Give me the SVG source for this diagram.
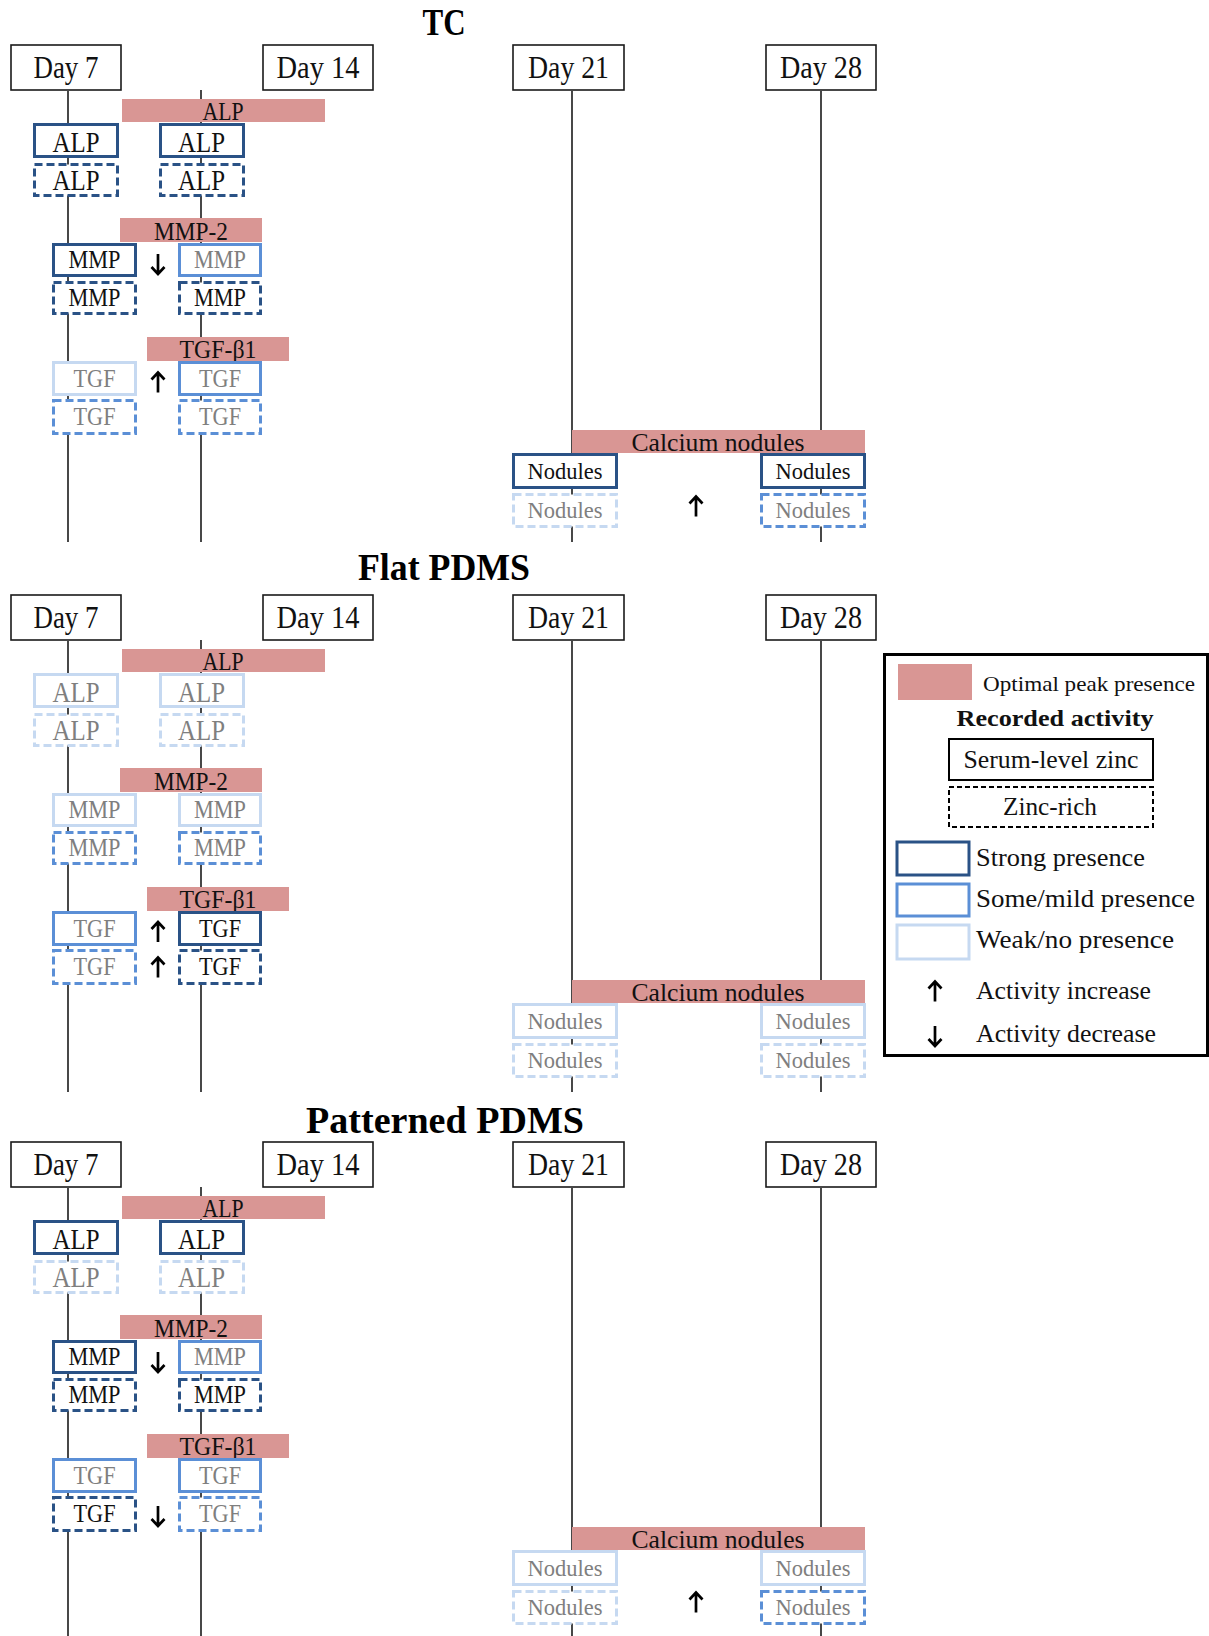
<svg xmlns="http://www.w3.org/2000/svg" xmlns:xlink="http://www.w3.org/1999/xlink" width="1209" height="1636" viewBox="0 0 1209 1636">
<style>
text{font-family:"Liberation Serif","Times New Roman",serif;}
.title{font-size:37px;font-weight:bold;fill:#000;text-anchor:middle;}
.dayb{fill:#fff;stroke:#1a1a1a;stroke-width:1.6;}
.dayt{font-size:31px;fill:#111;text-anchor:middle;}
.ln{stroke:#1a1a1a;stroke-width:1.6;fill:none;}
.bar{fill:#D99694;}
.bt{font-size:25px;fill:#111;text-anchor:middle;}
.bx{fill:#fff;stroke-width:3;}
.s{stroke:#2A5286;}
.m{stroke:#5B8FD6;}
.w{stroke:#C6D9F1;}
.d{stroke-dasharray:8 4;}
.k{fill:#111;}
.g{fill:#7F7F7F;}
.alp{font-size:30px;text-anchor:middle;}
.lb{font-size:25px;text-anchor:middle;}
.nod{font-size:23px;text-anchor:middle;}
.arr{stroke:#000;stroke-width:2.7;fill:none;}
.lg{font-size:25px;fill:#111;}
</style>
<defs>
<path id="up" d="M0,10 V-9 M-6.5,-3 L0,-10 L6.5,-3"/>
<path id="dn" d="M0,-10 V9 M-6.5,3 L0,10 L6.5,3"/>
</defs>

<!-- ===================== SECTION 1: TC ===================== -->
<g id="sec-tc">
<text class="title" x="444" y="35" textLength="43" lengthAdjust="spacingAndGlyphs">TC</text>
<g id="tc-connectors">
<line class="ln" x1="68" y1="91" x2="68" y2="542"/>
<line class="ln" x1="201" y1="90" x2="201" y2="542"/>
<line class="ln" x1="572" y1="91" x2="572" y2="542"/>
<line class="ln" x1="821" y1="91" x2="821" y2="542"/>
</g>
<g id="tc-day7"><rect class="dayb" x="11" y="45" width="110" height="45"/><text class="dayt" x="66" y="78" textLength="65" lengthAdjust="spacingAndGlyphs">Day 7</text></g>
<g id="tc-day14"><rect class="dayb" x="263" y="45" width="110" height="45"/><text class="dayt" x="318" y="78" textLength="83" lengthAdjust="spacingAndGlyphs">Day 14</text></g>
<g id="tc-day21"><rect class="dayb" x="513" y="45" width="111" height="45"/><text class="dayt" x="568.5" y="78" textLength="81" lengthAdjust="spacingAndGlyphs">Day 21</text></g>
<g id="tc-day28"><rect class="dayb" x="766" y="45" width="110" height="45"/><text class="dayt" x="821" y="78" textLength="82" lengthAdjust="spacingAndGlyphs">Day 28</text></g>
<g id="tc-bar-alp"><rect class="bar" x="122" y="99" width="203" height="23"/><text class="bt" x="223" y="120" textLength="41" lengthAdjust="spacingAndGlyphs">ALP</text></g>
<g id="tc-bar-mmp"><rect class="bar" x="120" y="218" width="142" height="24"/><text class="bt" x="191" y="240" textLength="74" lengthAdjust="spacingAndGlyphs">MMP-2</text></g>
<g id="tc-bar-tgf"><rect class="bar" x="147" y="337" width="142" height="24"/><text class="bt" x="218" y="358" textLength="77" lengthAdjust="spacingAndGlyphs">TGF-β1</text></g>
<g id="tc-bar-cal"><rect class="bar" x="572" y="430" width="293" height="23"/><text class="bt" x="718" y="451" textLength="173" lengthAdjust="spacingAndGlyphs">Calcium nodules</text></g>
<g id="tc-alp-d7-s"><rect class="bx s" x="34.5" y="124.5" width="83" height="32"/><text class="alp k" x="76" y="152" textLength="47" lengthAdjust="spacingAndGlyphs">ALP</text></g>
<g id="tc-alp-d7-z"><rect class="bx s d" x="34.5" y="164.5" width="83" height="31"/><text class="alp k" x="76" y="190" textLength="47" lengthAdjust="spacingAndGlyphs">ALP</text></g>
<g id="tc-alp-d14-s"><rect class="bx s" x="160.5" y="124.5" width="83" height="32"/><text class="alp k" x="201.5" y="152" textLength="47" lengthAdjust="spacingAndGlyphs">ALP</text></g>
<g id="tc-alp-d14-z"><rect class="bx s d" x="160.5" y="164.5" width="83" height="31"/><text class="alp k" x="201.5" y="190" textLength="47" lengthAdjust="spacingAndGlyphs">ALP</text></g>
<g id="tc-mmp-d7-s"><rect class="bx s" x="53.5" y="244.5" width="82" height="31"/><text class="lb k" x="94.5" y="268" textLength="52" lengthAdjust="spacingAndGlyphs">MMP</text></g>
<g id="tc-mmp-d7-z"><rect class="bx s d" x="53.5" y="282.5" width="82" height="31"/><text class="lb k" x="94.5" y="306" textLength="52" lengthAdjust="spacingAndGlyphs">MMP</text></g>
<g id="tc-mmp-d14-s"><rect class="bx m" x="179.5" y="244.5" width="81" height="31"/><text class="lb g" x="220" y="268" textLength="52" lengthAdjust="spacingAndGlyphs">MMP</text></g>
<g id="tc-mmp-d14-z"><rect class="bx s d" x="179.5" y="282.5" width="81" height="31"/><text class="lb k" x="220" y="306" textLength="52" lengthAdjust="spacingAndGlyphs">MMP</text></g>
<g id="tc-tgf-d7-s"><rect class="bx w" x="53.5" y="362.5" width="82" height="32"/><text class="lb g" x="94.5" y="387" textLength="42" lengthAdjust="spacingAndGlyphs">TGF</text></g>
<g id="tc-tgf-d7-z"><rect class="bx m d" x="53.5" y="400.5" width="82" height="33"/><text class="lb g" x="94.5" y="425" textLength="42" lengthAdjust="spacingAndGlyphs">TGF</text></g>
<g id="tc-tgf-d14-s"><rect class="bx m" x="179.5" y="362.5" width="81" height="32"/><text class="lb g" x="220" y="387" textLength="42" lengthAdjust="spacingAndGlyphs">TGF</text></g>
<g id="tc-tgf-d14-z"><rect class="bx m d" x="179.5" y="400.5" width="81" height="33"/><text class="lb g" x="220" y="425" textLength="42" lengthAdjust="spacingAndGlyphs">TGF</text></g>
<g id="tc-nod-d21-s"><rect class="bx s" x="513.5" y="454.5" width="103" height="33"/><text class="nod k" x="565" y="479" textLength="75" lengthAdjust="spacingAndGlyphs">Nodules</text></g>
<g id="tc-nod-d21-z"><rect class="bx w d" x="513.5" y="494.5" width="103" height="32"/><text class="nod g" x="565" y="518" textLength="75" lengthAdjust="spacingAndGlyphs">Nodules</text></g>
<g id="tc-nod-d28-s"><rect class="bx s" x="761.5" y="454.5" width="103" height="33"/><text class="nod k" x="813" y="479" textLength="75" lengthAdjust="spacingAndGlyphs">Nodules</text></g>
<g id="tc-nod-d28-z"><rect class="bx m d" x="761.5" y="494.5" width="103" height="32"/><text class="nod g" x="813" y="518" textLength="75" lengthAdjust="spacingAndGlyphs">Nodules</text></g>
<g id="tc-arrows">
<use href="#dn" class="arr" transform="translate(158,264)"/>
<use href="#up" class="arr" transform="translate(158,382.5)"/>
<use href="#up" class="arr" transform="translate(696,506.5)"/>
</g>
</g>

<!-- ===================== SECTION 2: Flat PDMS ===================== -->
<g id="sec-flat" transform="translate(0,550)">
<text class="title" x="444" y="30" textLength="172" lengthAdjust="spacingAndGlyphs">Flat PDMS</text>
<g id="flat-connectors">
<line class="ln" x1="68" y1="91" x2="68" y2="542"/>
<line class="ln" x1="201" y1="90" x2="201" y2="542"/>
<line class="ln" x1="572" y1="91" x2="572" y2="542"/>
<line class="ln" x1="821" y1="91" x2="821" y2="542"/>
</g>
<g id="flat-day7"><rect class="dayb" x="11" y="45" width="110" height="45"/><text class="dayt" x="66" y="78" textLength="65" lengthAdjust="spacingAndGlyphs">Day 7</text></g>
<g id="flat-day14"><rect class="dayb" x="263" y="45" width="110" height="45"/><text class="dayt" x="318" y="78" textLength="83" lengthAdjust="spacingAndGlyphs">Day 14</text></g>
<g id="flat-day21"><rect class="dayb" x="513" y="45" width="111" height="45"/><text class="dayt" x="568.5" y="78" textLength="81" lengthAdjust="spacingAndGlyphs">Day 21</text></g>
<g id="flat-day28"><rect class="dayb" x="766" y="45" width="110" height="45"/><text class="dayt" x="821" y="78" textLength="82" lengthAdjust="spacingAndGlyphs">Day 28</text></g>
<g id="flat-bar-alp"><rect class="bar" x="122" y="99" width="203" height="23"/><text class="bt" x="223" y="120" textLength="41" lengthAdjust="spacingAndGlyphs">ALP</text></g>
<g id="flat-bar-mmp"><rect class="bar" x="120" y="218" width="142" height="24"/><text class="bt" x="191" y="240" textLength="74" lengthAdjust="spacingAndGlyphs">MMP-2</text></g>
<g id="flat-bar-tgf"><rect class="bar" x="147" y="337" width="142" height="24"/><text class="bt" x="218" y="358" textLength="77" lengthAdjust="spacingAndGlyphs">TGF-β1</text></g>
<g id="flat-bar-cal"><rect class="bar" x="572" y="430" width="293" height="23"/><text class="bt" x="718" y="451" textLength="173" lengthAdjust="spacingAndGlyphs">Calcium nodules</text></g>
<g id="flat-alp-d7-s"><rect class="bx w" x="34.5" y="124.5" width="83" height="32"/><text class="alp g" x="76" y="152" textLength="47" lengthAdjust="spacingAndGlyphs">ALP</text></g>
<g id="flat-alp-d7-z"><rect class="bx w d" x="34.5" y="164.5" width="83" height="31"/><text class="alp g" x="76" y="190" textLength="47" lengthAdjust="spacingAndGlyphs">ALP</text></g>
<g id="flat-alp-d14-s"><rect class="bx w" x="160.5" y="124.5" width="83" height="32"/><text class="alp g" x="201.5" y="152" textLength="47" lengthAdjust="spacingAndGlyphs">ALP</text></g>
<g id="flat-alp-d14-z"><rect class="bx w d" x="160.5" y="164.5" width="83" height="31"/><text class="alp g" x="201.5" y="190" textLength="47" lengthAdjust="spacingAndGlyphs">ALP</text></g>
<g id="flat-mmp-d7-s"><rect class="bx w" x="53.5" y="244.5" width="82" height="31"/><text class="lb g" x="94.5" y="268" textLength="52" lengthAdjust="spacingAndGlyphs">MMP</text></g>
<g id="flat-mmp-d7-z"><rect class="bx m d" x="53.5" y="282.5" width="82" height="31"/><text class="lb g" x="94.5" y="306" textLength="52" lengthAdjust="spacingAndGlyphs">MMP</text></g>
<g id="flat-mmp-d14-s"><rect class="bx w" x="179.5" y="244.5" width="81" height="31"/><text class="lb g" x="220" y="268" textLength="52" lengthAdjust="spacingAndGlyphs">MMP</text></g>
<g id="flat-mmp-d14-z"><rect class="bx m d" x="179.5" y="282.5" width="81" height="31"/><text class="lb g" x="220" y="306" textLength="52" lengthAdjust="spacingAndGlyphs">MMP</text></g>
<g id="flat-tgf-d7-s"><rect class="bx m" x="53.5" y="362.5" width="82" height="32"/><text class="lb g" x="94.5" y="387" textLength="42" lengthAdjust="spacingAndGlyphs">TGF</text></g>
<g id="flat-tgf-d7-z"><rect class="bx m d" x="53.5" y="400.5" width="82" height="33"/><text class="lb g" x="94.5" y="425" textLength="42" lengthAdjust="spacingAndGlyphs">TGF</text></g>
<g id="flat-tgf-d14-s"><rect class="bx s" x="179.5" y="362.5" width="81" height="32"/><text class="lb k" x="220" y="387" textLength="42" lengthAdjust="spacingAndGlyphs">TGF</text></g>
<g id="flat-tgf-d14-z"><rect class="bx s d" x="179.5" y="400.5" width="81" height="33"/><text class="lb k" x="220" y="425" textLength="42" lengthAdjust="spacingAndGlyphs">TGF</text></g>
<g id="flat-nod-d21-s"><rect class="bx w" x="513.5" y="454.5" width="103" height="33"/><text class="nod g" x="565" y="479" textLength="75" lengthAdjust="spacingAndGlyphs">Nodules</text></g>
<g id="flat-nod-d21-z"><rect class="bx w d" x="513.5" y="494.5" width="103" height="32"/><text class="nod g" x="565" y="518" textLength="75" lengthAdjust="spacingAndGlyphs">Nodules</text></g>
<g id="flat-nod-d28-s"><rect class="bx w" x="761.5" y="454.5" width="103" height="33"/><text class="nod g" x="813" y="479" textLength="75" lengthAdjust="spacingAndGlyphs">Nodules</text></g>
<g id="flat-nod-d28-z"><rect class="bx w d" x="761.5" y="494.5" width="103" height="32"/><text class="nod g" x="813" y="518" textLength="75" lengthAdjust="spacingAndGlyphs">Nodules</text></g>
<g id="flat-arrows">
<use href="#up" class="arr" transform="translate(158,382)"/>
<use href="#up" class="arr" transform="translate(158,417.5)"/>
</g>
</g>

<!-- ===================== SECTION 3: Patterned PDMS ===================== -->
<g id="sec-pat" transform="translate(0,1097)">
<text class="title" x="445" y="36" textLength="278" lengthAdjust="spacingAndGlyphs">Patterned PDMS</text>
<g id="pat-connectors">
<line class="ln" x1="68" y1="91" x2="68" y2="545"/>
<line class="ln" x1="201" y1="90" x2="201" y2="545"/>
<line class="ln" x1="572" y1="91" x2="572" y2="545"/>
<line class="ln" x1="821" y1="91" x2="821" y2="545"/>
</g>
<g id="pat-day7"><rect class="dayb" x="11" y="45" width="110" height="45"/><text class="dayt" x="66" y="78" textLength="65" lengthAdjust="spacingAndGlyphs">Day 7</text></g>
<g id="pat-day14"><rect class="dayb" x="263" y="45" width="110" height="45"/><text class="dayt" x="318" y="78" textLength="83" lengthAdjust="spacingAndGlyphs">Day 14</text></g>
<g id="pat-day21"><rect class="dayb" x="513" y="45" width="111" height="45"/><text class="dayt" x="568.5" y="78" textLength="81" lengthAdjust="spacingAndGlyphs">Day 21</text></g>
<g id="pat-day28"><rect class="dayb" x="766" y="45" width="110" height="45"/><text class="dayt" x="821" y="78" textLength="82" lengthAdjust="spacingAndGlyphs">Day 28</text></g>
<g id="pat-bar-alp"><rect class="bar" x="122" y="99" width="203" height="23"/><text class="bt" x="223" y="120" textLength="41" lengthAdjust="spacingAndGlyphs">ALP</text></g>
<g id="pat-bar-mmp"><rect class="bar" x="120" y="218" width="142" height="24"/><text class="bt" x="191" y="240" textLength="74" lengthAdjust="spacingAndGlyphs">MMP-2</text></g>
<g id="pat-bar-tgf"><rect class="bar" x="147" y="337" width="142" height="24"/><text class="bt" x="218" y="358" textLength="77" lengthAdjust="spacingAndGlyphs">TGF-β1</text></g>
<g id="pat-bar-cal"><rect class="bar" x="572" y="430" width="293" height="23"/><text class="bt" x="718" y="451" textLength="173" lengthAdjust="spacingAndGlyphs">Calcium nodules</text></g>
<g id="pat-alp-d7-s"><rect class="bx s" x="34.5" y="124.5" width="83" height="32"/><text class="alp k" x="76" y="152" textLength="47" lengthAdjust="spacingAndGlyphs">ALP</text></g>
<g id="pat-alp-d7-z"><rect class="bx w d" x="34.5" y="164.5" width="83" height="31"/><text class="alp g" x="76" y="190" textLength="47" lengthAdjust="spacingAndGlyphs">ALP</text></g>
<g id="pat-alp-d14-s"><rect class="bx s" x="160.5" y="124.5" width="83" height="32"/><text class="alp k" x="201.5" y="152" textLength="47" lengthAdjust="spacingAndGlyphs">ALP</text></g>
<g id="pat-alp-d14-z"><rect class="bx w d" x="160.5" y="164.5" width="83" height="31"/><text class="alp g" x="201.5" y="190" textLength="47" lengthAdjust="spacingAndGlyphs">ALP</text></g>
<g id="pat-mmp-d7-s"><rect class="bx s" x="53.5" y="244.5" width="82" height="31"/><text class="lb k" x="94.5" y="268" textLength="52" lengthAdjust="spacingAndGlyphs">MMP</text></g>
<g id="pat-mmp-d7-z"><rect class="bx s d" x="53.5" y="282.5" width="82" height="31"/><text class="lb k" x="94.5" y="306" textLength="52" lengthAdjust="spacingAndGlyphs">MMP</text></g>
<g id="pat-mmp-d14-s"><rect class="bx m" x="179.5" y="244.5" width="81" height="31"/><text class="lb g" x="220" y="268" textLength="52" lengthAdjust="spacingAndGlyphs">MMP</text></g>
<g id="pat-mmp-d14-z"><rect class="bx s d" x="179.5" y="282.5" width="81" height="31"/><text class="lb k" x="220" y="306" textLength="52" lengthAdjust="spacingAndGlyphs">MMP</text></g>
<g id="pat-tgf-d7-s"><rect class="bx m" x="53.5" y="362.5" width="82" height="32"/><text class="lb g" x="94.5" y="387" textLength="42" lengthAdjust="spacingAndGlyphs">TGF</text></g>
<g id="pat-tgf-d7-z"><rect class="bx s d" x="53.5" y="400.5" width="82" height="33"/><text class="lb k" x="94.5" y="425" textLength="42" lengthAdjust="spacingAndGlyphs">TGF</text></g>
<g id="pat-tgf-d14-s"><rect class="bx m" x="179.5" y="362.5" width="81" height="32"/><text class="lb g" x="220" y="387" textLength="42" lengthAdjust="spacingAndGlyphs">TGF</text></g>
<g id="pat-tgf-d14-z"><rect class="bx m d" x="179.5" y="400.5" width="81" height="33"/><text class="lb g" x="220" y="425" textLength="42" lengthAdjust="spacingAndGlyphs">TGF</text></g>
<g id="pat-nod-d21-s"><rect class="bx w" x="513.5" y="454.5" width="103" height="33"/><text class="nod g" x="565" y="479" textLength="75" lengthAdjust="spacingAndGlyphs">Nodules</text></g>
<g id="pat-nod-d21-z"><rect class="bx w d" x="513.5" y="494.5" width="103" height="32"/><text class="nod g" x="565" y="518" textLength="75" lengthAdjust="spacingAndGlyphs">Nodules</text></g>
<g id="pat-nod-d28-s"><rect class="bx w" x="761.5" y="454.5" width="103" height="33"/><text class="nod g" x="813" y="479" textLength="75" lengthAdjust="spacingAndGlyphs">Nodules</text></g>
<g id="pat-nod-d28-z"><rect class="bx m d" x="761.5" y="494.5" width="103" height="32"/><text class="nod g" x="813" y="518" textLength="75" lengthAdjust="spacingAndGlyphs">Nodules</text></g>
<g id="pat-arrows">
<use href="#dn" class="arr" transform="translate(158,265)"/>
<use href="#dn" class="arr" transform="translate(158,419)"/>
<use href="#up" class="arr" transform="translate(696,505.5)"/>
</g>
</g>

<!-- ===================== LEGEND ===================== -->
<g id="legend">
<rect x="884.5" y="654.5" width="323" height="401" fill="#fff" stroke="#000" stroke-width="3"/>
<rect class="bar" x="898" y="664" width="74" height="36"/>
<text class="lg" x="983" y="691" style="font-size:22px" textLength="212" lengthAdjust="spacingAndGlyphs">Optimal peak presence</text>
<text class="lg" x="1055" y="726" style="font-size:24px;font-weight:bold;text-anchor:middle" textLength="197" lengthAdjust="spacingAndGlyphs">Recorded activity</text>
<rect x="949" y="739" width="204" height="41" fill="#fff" stroke="#000" stroke-width="2"/>
<text class="lg" x="1051" y="768" style="text-anchor:middle" textLength="175" lengthAdjust="spacingAndGlyphs">Serum-level zinc</text>
<rect x="949" y="787" width="204" height="40" fill="#fff" stroke="#000" stroke-width="2" stroke-dasharray="5 3"/>
<text class="lg" x="1050" y="815" style="text-anchor:middle" textLength="94" lengthAdjust="spacingAndGlyphs">Zinc-rich</text>
<rect class="bx s" x="897" y="842" width="72" height="33" stroke-width="4"/>
<text class="lg" x="976" y="866" style="font-size:26px" textLength="169" lengthAdjust="spacingAndGlyphs">Strong presence</text>
<rect class="bx m" x="897" y="884" width="72" height="32" stroke-width="4"/>
<text class="lg" x="976" y="907" style="font-size:26px" textLength="219" lengthAdjust="spacingAndGlyphs">Some/mild presence</text>
<rect class="bx w" x="897" y="925" width="72" height="34" stroke-width="4"/>
<text class="lg" x="976" y="948" style="font-size:26px" textLength="198" lengthAdjust="spacingAndGlyphs">Weak/no presence</text>
<use href="#up" class="arr" transform="translate(935,991.5)"/>
<text class="lg" x="976" y="999" style="font-size:26px" textLength="175" lengthAdjust="spacingAndGlyphs">Activity increase</text>
<use href="#dn" class="arr" transform="translate(935,1036)"/>
<text class="lg" x="976" y="1042" style="font-size:26px" textLength="180" lengthAdjust="spacingAndGlyphs">Activity decrease</text>
</g>
</svg>
